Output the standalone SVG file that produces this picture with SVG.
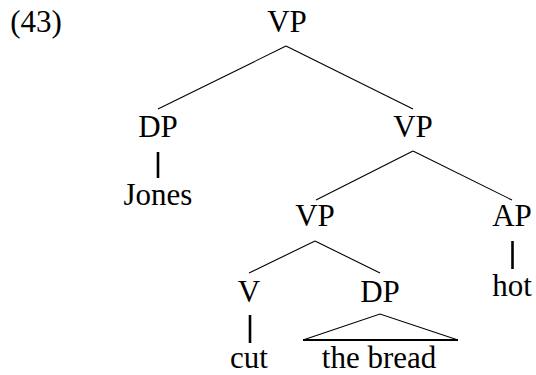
<svg xmlns="http://www.w3.org/2000/svg" width="536" height="375" viewBox="0 0 536 375">
<style>
.e{stroke:#000;stroke-width:1.1;fill:none}
.u{stroke:#000;stroke-width:2.6;fill:none}
.b{stroke:#000;stroke-width:2;fill:none}
text{font-family:"Liberation Serif","Times New Roman","DejaVu Serif",serif;font-size:31px;fill:#000;text-anchor:middle}
</style>
<rect width="536" height="375" fill="#fff"/>
<text x="36" y="32">(43)</text>
<g id="connectors">
<line class="e" x1="286" y1="46" x2="158" y2="109"/>
<line class="e" x1="286" y1="46" x2="413" y2="109"/>
<line class="u" x1="158" y1="152" x2="158" y2="178"/>
<line class="e" x1="413" y1="151" x2="316" y2="200"/>
<line class="e" x1="413" y1="151" x2="512" y2="200"/>
<line class="e" x1="315" y1="241" x2="249" y2="273"/>
<line class="e" x1="315" y1="241" x2="380" y2="273"/>
<line class="u" x1="512.5" y1="241" x2="512.5" y2="269"/>
<line class="u" x1="250" y1="315" x2="250" y2="343"/>
<polyline class="e" points="303,340 380,314 458,340"/>
<line class="b" x1="303" y1="340" x2="458" y2="340"/>
</g>
<g id="n-vp1"><text x="287" y="32">VP</text></g>
<g id="n-dp1"><text x="158" y="137">DP</text></g>
<g id="n-vp2"><text x="413" y="137">VP</text></g>
<g id="n-jones"><text x="158" y="205">Jones</text></g>
<g id="n-vp3"><text x="315" y="226">VP</text></g>
<g id="n-ap"><text x="512" y="226">AP</text></g>
<g id="n-hot"><text x="512" y="296">hot</text></g>
<g id="n-v"><text x="249" y="302">V</text></g>
<g id="n-dp2"><text x="380" y="302">DP</text></g>
<g id="n-cut"><text x="249" y="368">cut</text></g>
<g id="n-bread"><text x="379" y="368">the bread</text></g>
</svg>
